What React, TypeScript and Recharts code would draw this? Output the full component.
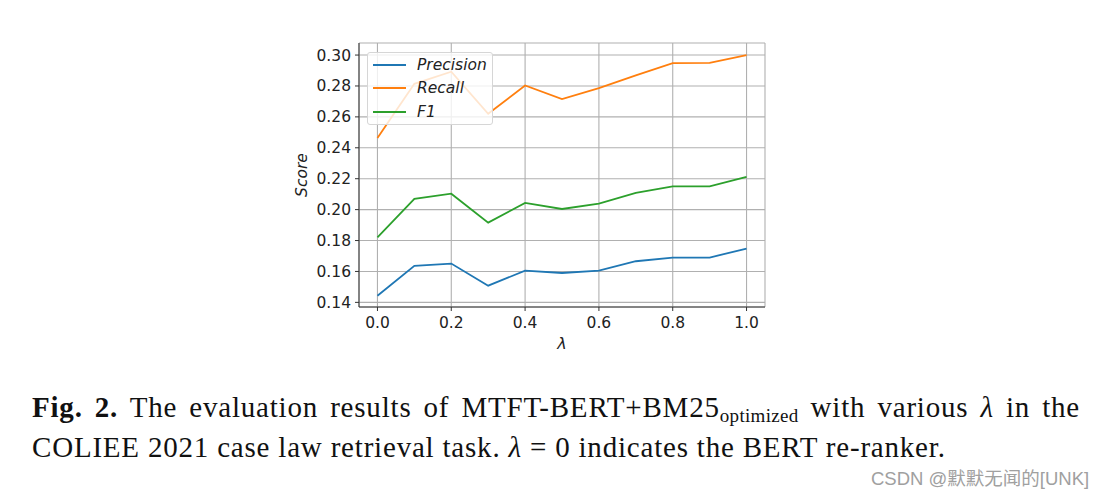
import React from "react";
import { LineChart, Line, XAxis, YAxis, CartesianGrid } from "recharts";

const lambdas = [0, 0.1, 0.2, 0.3, 0.4, 0.5, 0.6, 0.7, 0.8, 0.9, 1.0];
const precision = [0.1443, 0.1636, 0.1651, 0.1508, 0.1605, 0.159, 0.1605, 0.1666, 0.169, 0.169, 0.1748];
const recall = [0.2464, 0.2814, 0.2892, 0.262, 0.2803, 0.2715, 0.2786, 0.2868, 0.2948, 0.295, 0.3];
const f1 = [0.182, 0.2069, 0.2103, 0.1916, 0.2043, 0.2004, 0.2039, 0.2108, 0.2151, 0.2151, 0.2212];

const xTicks = [0, 0.2, 0.4, 0.6, 0.8, 1.0];
const yTicks = [0.14, 0.16, 0.18, 0.2, 0.22, 0.24, 0.26, 0.28, 0.3];

const SERIES = [
  { key: "precision", name: "Precision", color: "#1f77b4" },
  { key: "recall", name: "Recall", color: "#ff7f0e" },
  { key: "f1", name: "F1", color: "#2ca02c" },
];

const data = lambdas.map((l, i) => ({
  lambda: l,
  precision: precision[i],
  recall: recall[i],
  f1: f1[i],
}));

const FONT = "'DejaVu Sans', sans-serif";
const FRAME = "#333";

// matplotlib-style legend box, drawn over the plot (upper left)
const LegendBox = () => (
  <div
    style={{
      position: "absolute",
      left: 367,
      top: 52,
      background: "rgba(255,255,255,0.8)",
      border: "1px solid #d6d6d6",
      borderRadius: 3,
      width: 126,
      height: 73,
      boxSizing: "border-box",
      fontFamily: FONT,
      fontSize: 15.5,
      fontStyle: "italic",
      color: "#222",
    }}
  >
    {SERIES.map((s, i) => (
      <div
        key={s.key}
        style={{
          position: "absolute",
          left: 5,
          top: 1 + i * 23.3,
          height: 22,
          display: "flex",
          alignItems: "center",
        }}
      >
        <span style={{ display: "inline-block", width: 33, height: 2, background: s.color, marginRight: 11 }} />
        <span>{s.name}</span>
      </div>
    ))}
  </div>
);

const App: React.FC = () => {
  return (
    <div style={{ position: "absolute", left: 0, top: 0, width: 1106, height: 493, background: "#fff" }}>
      <LineChart
        width={1106}
        height={360}
        data={data}
        margin={{ top: 43, right: 341, bottom: 13, left: 299 }}
      >
        <CartesianGrid stroke="#b0b0b0" strokeWidth={1.1} />
        <XAxis
          dataKey="lambda"
          type="number"
          domain={[-0.05, 1.05]}
          ticks={xTicks}
          interval={0}
          tickFormatter={(v: number) => v.toFixed(1)}
          height={40}
          stroke={FRAME}
          tickSize={4}
          tickMargin={6}
          tick={{ fill: "#222", fontSize: 15.5, fontFamily: FONT }}
          label={{
            content: (p: any) => (
              <text
                x={p.viewBox.x + p.viewBox.width / 2}
                y={p.viewBox.y + 42}
                textAnchor="middle"
                fill="#222"
                fontSize={16}
                fontStyle="italic"
                fontFamily={FONT}
              >
                λ
              </text>
            ),
          }}
        />
        <XAxis xAxisId="top" orientation="top" dataKey="lambda" type="number" domain={[-0.05, 1.05]} height={0} tick={false} tickLine={false} stroke={FRAME} />
        <YAxis
          type="number"
          domain={[0.137, 0.3078]}
          ticks={yTicks}
          interval={0}
          tickFormatter={(v: number) => v.toFixed(2)}
          width={60}
          stroke={FRAME}
          tickSize={4}
          tickMargin={4}
          tick={{ fill: "#222", fontSize: 15.5, fontFamily: FONT }}
          label={{
            content: (p: any) => {
              const cx = p.viewBox.x + 3;
              const cy = p.viewBox.y + p.viewBox.height / 2 - 0;
              return (
                <text
                  x={cx}
                  y={cy}
                  transform={`rotate(-90, ${cx}, ${cy})`}
                  textAnchor="middle"
                  dominantBaseline="central"
                  fill="#222"
                  fontSize={15.5}
                  fontStyle="italic"
                  fontFamily={FONT}
                >
                  Score
                </text>
              );
            },
          }}
        />
        <YAxis yAxisId="right" orientation="right" domain={[0.137, 0.3078]} width={0} tick={false} tickLine={false} stroke={FRAME} />
        {SERIES.map((s) => (
          <Line
            key={s.key}
            type="linear"
            dataKey={s.key}
            name={s.name}
            stroke={s.color}
            strokeWidth={1.8}
            dot={false}
            isAnimationActive={false}
          />
        ))}
      </LineChart>
      <LegendBox />
      <div
        style={{
          position: "absolute",
          left: 32,
          top: 392,
          width: 1048,
          fontFamily: "'Liberation Serif', serif",
          fontSize: 29,
          lineHeight: "31.5px",
          letterSpacing: 0.8,
          color: "#111",
        }}
      >
        <div style={{ textAlign: "justify", textAlignLast: "justify", whiteSpace: "nowrap" as any }}>
          <b>Fig. 2.</b> The evaluation results of MTFT-BERT+BM25
          <sub style={{ fontSize: 19, verticalAlign: "-5px", letterSpacing: 0.3 }}>optimized</sub> with various <i>λ</i> in the
        </div>
        <div>
          COLIEE 2021 case law retrieval task. <i>λ</i> = 0 indicates the BERT re-ranker.
        </div>
      </div>
      <div
        style={{
          position: "absolute",
          left: 871,
          top: 464,
          fontFamily: "Arial, 'Liberation Sans', 'Noto Sans CJK SC', sans-serif",
          fontSize: 18.5,
          color: "#a0a0a0",
          whiteSpace: "nowrap",
        }}
      >
        CSDN @默默无闻的[UNK]
      </div>
    </div>
  );
};

export default App;
